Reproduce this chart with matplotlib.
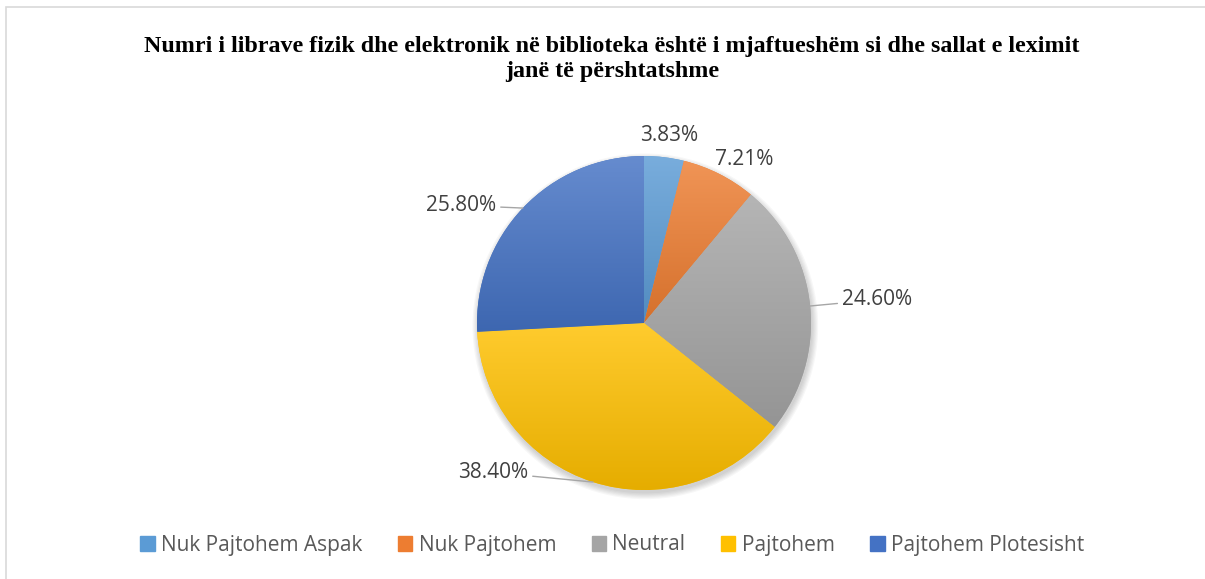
import numpy as np
import matplotlib
matplotlib.use("Agg")
import matplotlib.pyplot as plt
from matplotlib.colors import to_rgb
from matplotlib.patches import Rectangle, Circle

categories = ["Nuk Pajtohem Aspak", "Nuk Pajtohem", "Neutral", "Pajtohem", "Pajtohem Plotesisht"]
shares = [3.83, 7.21, 24.60, 38.40, 25.80]
colors = ["#5B9BD5", "#ED7D31", "#A5A5A5", "#FFC000", "#4472C4"]
title = ("Numri i librave fizik dhe elektronik në biblioteka është i mjaftueshëm si dhe sallat e leximit\n"
         "janë të përshtatshme")

# label placement: (polar angle deg, distance in radii, leader line)
label_pos = [(82.4, 1.13, False), (58.4, 1.15, False), (5.7, 1.40, True),
             (224.8, 1.27, True), (147.2, 1.30, True)]

W, H = 1205, 579
fig = plt.figure(figsize=(W / 100, H / 100), dpi=100)
fig.patch.set_facecolor("white")

# chart frame
fig.patches.append(Rectangle((6 / W, -0.1), 1.2, 1.1 - 7 / H, transform=fig.transFigure,
                             fill=False, edgecolor="#D9D9D9", lw=1.2))

fig.text(0.508, 1 - 59 / H, title, ha="center", va="center", fontfamily="Liberation Serif",
         fontweight="bold", fontsize=17.3, linespacing=1.22, color="black")

cx, cy, r = 644, 323, 167
ax = fig.add_axes([(cx - r) / W, (H - cy - r) / H, 2 * r / W, 2 * r / H])

# soft shadow
for k in range(6):
    ax.add_patch(Circle((0.008, -0.02), 1.0 + k * 0.007, color="black", alpha=0.03,
                        lw=0, zorder=0, clip_on=False))

wedges, _ = ax.pie(shares, colors=colors, startangle=90, counterclock=False, radius=1,
                   wedgeprops=dict(edgecolor="none"))


def blend(c, other, t):
    c = np.array(to_rgb(c))
    return c + (np.array(other) - c) * t


for w, c in zip(wedges, colors):
    bb = w.get_path().get_extents()
    top = blend(c, (1, 1, 1), 0.18)
    bot = blend(c, (0, 0, 0), 0.10)
    t = np.linspace(0, 1, 256)[:, None, None]
    grad = top[None, None, :] * (1 - t) + bot[None, None, :] * t
    im = ax.imshow(grad, extent=[bb.x0, bb.x1, bb.y0, bb.y1], origin="upper",
                   aspect="auto", zorder=2, interpolation="bilinear")
    im.set_clip_path(w)

for w, v, (ang, dist, leader) in zip(wedges, shares, label_pos):
    a = np.deg2rad(ang)
    pos = (dist * np.cos(a), dist * np.sin(a))
    txt = f"{v:.2f}%"
    if leader:
        mid = np.deg2rad((w.theta1 + w.theta2) / 2)
        ax.annotate(txt, xy=(np.cos(mid), np.sin(mid)), xytext=pos, ha="center", va="center",
                    fontsize=15, fontfamily="Open Sans", color="#404040", zorder=5,
                    arrowprops=dict(arrowstyle="-", color="#A6A6A6", lw=1, shrinkA=1, shrinkB=0))
    else:
        ax.text(pos[0], pos[1], txt, ha="center", va="center", fontsize=15,
                fontfamily="Open Sans", color="#404040", zorder=5)

ax.set_xlim(-1, 1)
ax.set_ylim(-1, 1)
ax.set_aspect("equal")
ax.axis("off")

handles = [Rectangle((0, 0), 1, 1, color=c) for c in colors]
fig.legend(handles, categories, loc="center", bbox_to_anchor=(0.508, 1 - 545 / H), ncol=5,
           frameon=False, handlelength=0.7, handleheight=0.7, handletextpad=0.3,
           columnspacing=1.7, prop=dict(family="Open Sans", size=15), labelcolor="#595959")

fig.savefig("out.png", dpi=100, facecolor="white")
